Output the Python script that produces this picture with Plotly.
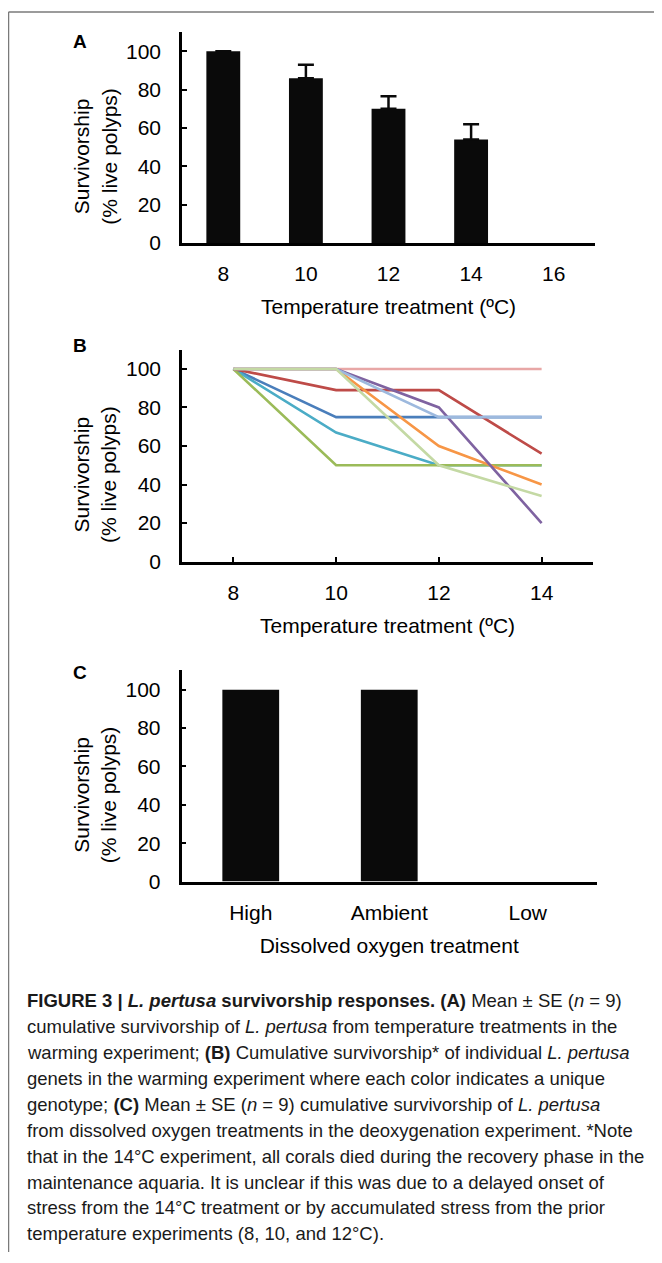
import plotly.graph_objects as go

# page is drawn inside the browser's default 8px body margin
OFF = 8
W, H = 662 - OFF, 1263 - OFF
FONT = "Liberation Sans, Arial, sans-serif"

# --- data ---
temps_a = ["8", "10", "12", "14", "16"]
surv_a = [100, 86, 70, 54, None]
se_a = [None, 7, 6.5, 8, None]

temps_b = [8, 10, 12, 14]
genets = {
    "g1": ([100, 100, 100, 100], "#E8A7A6"),
    "g2": ([100, 75, 75, 75], "#4A7EBB"),
    "g3": ([100, 67, 50, 50], "#4BACC6"),
    "g4": ([100, 50, 50, 50], "#9BBB59"),
    "g5": ([100, 89, 89, 56], "#BE4B48"),
    "g6": ([100, 100, 60, 40], "#F79646"),
    "g7": ([100, 100, 80, 20], "#7F63A1"),
    "g8": ([100, 100, 75, 75], "#9DB9DE"),
    "g9": ([100, 100, 50, 34], "#C4D9A4"),
}

oxygen_c = ["High", "Ambient", "Low"]
surv_c = [100, 100, None]

caption_lines = [
    "<b>FIGURE 3 | <i>L. pertusa</i> survivorship responses. (A)</b> Mean ± SE (<i>n</i> = 9)",
    "cumulative survivorship of <i>L. pertusa</i> from temperature treatments in the",
    "warming experiment; <b>(B)</b> Cumulative survivorship* of individual <i>L. pertusa</i>",
    "genets in the warming experiment where each color indicates a unique",
    "genotype; <b>(C)</b> Mean ± SE (<i>n</i> = 9) cumulative survivorship of <i>L. pertusa</i>",
    "from dissolved oxygen treatments in the deoxygenation experiment. *Note",
    "that in the 14°C experiment, all corals died during the recovery phase in the",
    "maintenance aquaria. It is unclear if this was due to a delayed onset of",
    "stress from the 14°C treatment or by accumulated stress from the prior",
    "temperature experiments (8, 10, and 12°C).",
]


def fx(p):
    return (p - OFF) / W


def fy(p):
    return 1 - (p - OFF) / H


fig = go.Figure()

fig.add_trace(go.Bar(
    x=temps_a, y=surv_a, width=0.41, marker=dict(color="#0a0a0a", line=dict(width=0)),
    error_y=dict(type="data", array=se_a, arrayminus=[0] * 5, symmetric=False,
                 color="#0a0a0a", thickness=2.5, width=8),
    xaxis="x", yaxis="y",
))

for name, (vals, col) in genets.items():
    fig.add_trace(go.Scatter(
        x=temps_b, y=vals, mode="lines", line=dict(color=col, width=2.6),
        xaxis="x2", yaxis="y2", name=name,
    ))

fig.add_trace(go.Bar(
    x=oxygen_c, y=surv_c, width=0.41, marker=dict(color="#0a0a0a", line=dict(width=0)),
    xaxis="x3", yaxis="y3",
))

yax = dict(range=[0, 110], tickvals=[0, 20, 40, 60, 80, 100], ticks="inside", ticklen=5,
           tickwidth=2, tickcolor="black", showline=True, linewidth=2.5, linecolor="black",
           showgrid=False, zeroline=False, ticklabelstandoff=14,
           tickfont=dict(family=FONT, size=21, color="black"))
xax = dict(showline=True, linewidth=2.5, linecolor="black", showgrid=False, zeroline=False,
           ticks="", ticklabelstandoff=10, tickfont=dict(family=FONT, size=21, color="black"),
           title_font=dict(family=FONT, size=21, color="black"), title_standoff=16)

fig.update_layout(
    width=W, height=H, margin=dict(l=0, r=0, t=0, b=0),
    paper_bgcolor="white", plot_bgcolor="white", showlegend=False,
    xaxis=dict(xax, domain=[fx(182), fx(595)], range=[-0.5, 4.5], anchor="y",
               title_text="Temperature treatment (ºC)"),
    yaxis=dict(yax, domain=[fy(245), fy(32.4)], anchor="x"),
    xaxis2=dict(xax, domain=[fx(182), fx(593)], range=[7, 15], anchor="y2",
                tickvals=[8, 10, 12, 14, 15], ticktext=["8", "10", "12", "14", ""],
                ticks="inside", ticklen=5, tickwidth=2, tickcolor="black",
                title_text="Temperature treatment (ºC)"),
    yaxis2=dict(yax, domain=[fy(566.5), fy(352.7)], anchor="x2"),
    xaxis3=dict(xax, domain=[fx(181.5), fx(597)], range=[-0.5, 2.5], anchor="y3",
                title_text="Dissolved oxygen treatment"),
    yaxis3=dict(yax, domain=[fy(889.3), fy(676.3)], anchor="x3"),
)

# panel letters and y titles
for letter, ly, yref in [("A", 42, "y"), ("B", 348, "y2"), ("C", 678, "y3")]:
    fig.add_annotation(text=f"<b>{letter}</b>", x=fx(80), y=fy(ly), xref="paper", yref="paper",
                       xanchor="center", yanchor="middle", showarrow=False,
                       font=dict(family=FONT, size=19, color="black"))
    fig.add_annotation(text="Survivorship<br>(% live polyps)", textangle=-90,
                       x=fx(95), y=45, xref="paper", yref=yref, xanchor="center", yanchor="middle",
                       showarrow=False, font=dict(family=FONT, size=21, color="black"))

# caption
for i, line in enumerate(caption_lines):
    fig.add_annotation(text=line, x=fx(25), y=fy(1009 + i * 26.2), xref="paper", yref="paper",
                       xanchor="left", yanchor="middle", showarrow=False, align="left",
                       font=dict(family=FONT, size=18.5, color="#1a1a1a"))

# page frame
fig.add_shape(type="line", xref="paper", yref="paper", x0=fx(8.5), x1=fx(8.5), y0=0, y1=fy(12),
              line=dict(color="#7a7a7a", width=1.5))
fig.add_shape(type="line", xref="paper", yref="paper", x0=fx(8.5), x1=1, y0=fy(12), y1=fy(12),
              line=dict(color="#7a7a7a", width=1.5))

fig.write_html("out.html")
